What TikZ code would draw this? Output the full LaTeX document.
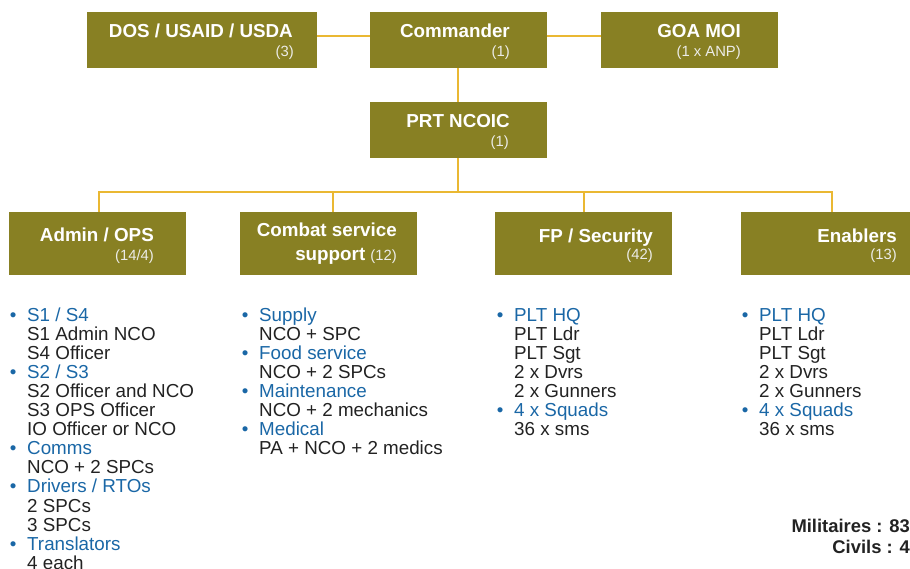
\documentclass[tikz,border=0pt]{standalone}
\usepackage{fontspec}
\setmainfont{Liberation Sans}
\definecolor{olivebox}{RGB}{136,128,35}
\definecolor{goldline}{RGB}{234,184,50}
\definecolor{blu}{RGB}{26,103,166}
\definecolor{txt}{RGB}{34,34,34}
\definecolor{subw}{RGB}{236,236,232}
\newcommand\bhd[1]{\llap{\textcolor{blu}{•}\hspace{10.8pt}}\textcolor{blu}{#1}}
\begin{document}
\begin{tikzpicture}[x=1pt,y=-1pt,
  box/.style={fill=olivebox, minimum width=177pt, minimum height=56pt, inner sep=0pt, outer sep=0pt},
  title/.style={text=white, font=\fontsize{18.8}{20}\selectfont\bfseries, anchor=base east, inner sep=0pt},
  sub/.style={text=subw, font=\fontsize{14.8}{16}\selectfont, anchor=base east, inner sep=0pt},
  lst/.style={text=txt, font=\fontsize{18.8}{19.1}\selectfont, anchor=base west, inner sep=0pt},
  tot/.style={text=txt, font=\fontsize{18.4}{20}\selectfont\bfseries, anchor=base east, inner sep=0pt},
  conn/.style={draw=goldline, line width=2pt}]
\useasboundingbox (0,0) rectangle (910,568);
\clip (0,0) rectangle (910,568);
% boxes
\node[box, minimum width=230pt] (dos) at (202,40) {};
\node[box] (cmd) at (458,40) {};
\node[box] (goa) at (689.5,40) {};
\node[box] (prt) at (458,130) {};
\node[box, minimum height=63pt] (adm) at (97.5,243.5) {};
\node[box, minimum height=63pt] (css) at (328.5,243.5) {};
\node[box, minimum height=63pt] (fp) at (583.5,243.5) {};
\node[box, minimum height=63pt] (ena) at (829.5,243.5) {};
% connectors
\coordinate (bus) at (458,192);
\draw[conn] ([yshift=4pt]dos.east) -- ([yshift=4pt]cmd.west);
\draw[conn] ([yshift=4pt]cmd.east) -- ([yshift=4pt]goa.west);
\draw[conn] (cmd.south) -- (prt.north);
\draw[conn] (prt.south) -- (bus);
\draw[conn] ([xshift=1.5pt]adm.north) |- (bus) -| ([xshift=2.5pt]ena.north);
\draw[conn] ([xshift=4.5pt]css.north) -- ([xshift=4.5pt]css.north |- bus);
\draw[conn] ([xshift=0.5pt]fp.north) -- ([xshift=0.5pt]fp.north |- bus);
% box texts
\node[title] (dosT) at (293,37) {DOS / USAID / USDA};
\node[sub] (dosS) at (294,56) {(3)};
\node[title] (cmdT) at (510,37) {Commander};
\node[sub] (cmdS) at (510,56) {(1)};
\node[title] (goaT) at (741,37) {GOA MOI};
\node[sub] (goaS) at (741,56) {(1 x ANP)};
\node[title] (prtT) at (510,127) {PRT NCOIC};
\node[sub] (prtS) at (509,146) {(1)};
\node[title] (admT) at (154,241) {Admin / OPS};
\node[sub] (admS) at (154,260) {(14/4)};
\node[title] (cssT) at (397,236) {Combat service};
\node[title] (cssS) at (397,260) {support {\fontsize{14.8}{16}\selectfont\mdseries\color{subw}(12)}};
\node[title] (fpT) at (653,242) {FP / Security};
\node[sub] (fpS) at (653,259) {(42)};
\node[title] (enaT) at (897,242) {Enablers};
\node[sub] (enaS) at (897,259) {(13)};
% lists
\foreach \t [count=\i from 0] in {{\bhd{S1 / S4}},{S1 Admin NCO},{S4 Officer},{\bhd{S2 / S3}},{S2 Officer and NCO},{S3 OPS Officer},{IO Officer or NCO},{\bhd{Comms}},{NCO + 2 SPCs},{\bhd{Drivers / RTOs}},{2 SPCs},{3 SPCs},{\bhd{Translators}},{4 each}}
  \node[lst] (la\i) at (27,{321+19.1*\i}) {\t};
\foreach \t [count=\i from 0] in {{\bhd{Supply}},{NCO + SPC},{\bhd{Food service}},{NCO + 2 SPCs},{\bhd{Maintenance}},{NCO + 2 mechanics},{\bhd{Medical}},{PA + NCO + 2 medics}}
  \node[lst] (lb\i) at (259,{321+19.1*\i}) {\t};
\foreach \t [count=\i from 0] in {{\bhd{PLT HQ}},{PLT Ldr},{PLT Sgt},{2 x Dvrs},{2 x Gunners},{\bhd{4 x Squads}},{36 x sms}}
  \node[lst] (lc\i) at (514,{321+19.1*\i}) {\t};
\foreach \t [count=\i from 0] in {{\bhd{PLT HQ}},{PLT Ldr},{PLT Sgt},{2 x Dvrs},{2 x Gunners},{\bhd{4 x Squads}},{36 x sms}}
  \node[lst] (ld\i) at (759,{321+19.1*\i}) {\t};
% totals
\node[tot] (mil) at (910,532) {Militaires : 83};
\node[tot] (civ) at (910,553) {Civils : 4};
\end{tikzpicture}
\end{document}
